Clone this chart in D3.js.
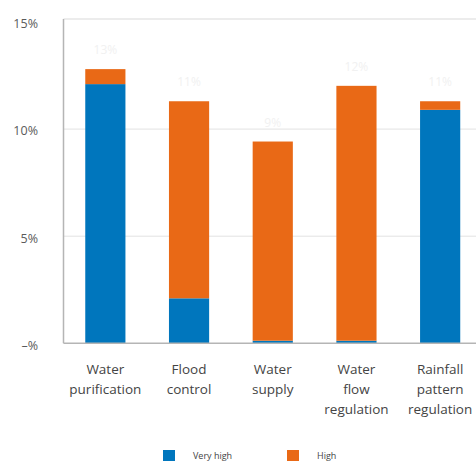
<!DOCTYPE html>
<html>
<head>
<meta charset="utf-8">
<script src="https://cdn.jsdelivr.net/npm/d3@7"></script>
<style>
  html, body { margin: 0; padding: 0; background: #fff; }
  svg { display: block; }
  text { font-family: "Open Sans", "Lato", sans-serif; }
</style>
</head>
<body>
<div id="chart"></div>
<script>
const categories = [
  ["Water", "purification"],
  ["Flood", "control"],
  ["Water", "supply"],
  ["Water", "flow", "regulation"],
  ["Rainfall", "pattern", "regulation"]
];
const categoryKeys = ["Water purification", "Flood control", "Water supply", "Water flow regulation", "Rainfall pattern regulation"];
const veryHigh = [12.1, 2.1, 0.12, 0.12, 10.9];
const high = [0.7, 9.2, 9.3, 11.9, 0.4];
const totalLabels = ["13%", "11%", "9%", "12%", "11%"];
const yTicks = [0, 5, 10, 15];
const yTickLabels = ["–%", "5%", "10%", "15%"];
const seriesNames = ["Very high", "High"];
const colors = ["#0076bd", "#e96916"];

const W = 476, H = 461;
const svg = d3.select("#chart").append("svg").attr("width", W).attr("height", H);

const x0 = 63.5, xR = 482, yBase = 343.3, yTop = 19;
const x = d3.scaleBand().domain(categoryKeys).range([x0, xR]).paddingInner(0.52).paddingOuter(0.26);
const y = d3.scaleLinear().domain([0, 15.14]).range([yBase, yTop]);

// gridlines
svg.append("g").selectAll("line").data([5, 10]).join("line")
  .attr("x1", x0).attr("x2", W).attr("y1", d => y(d)).attr("y2", d => y(d))
  .attr("stroke", "#e2e2e2").attr("stroke-width", 1);
// top frame
svg.append("line").attr("x1", x0).attr("x2", W).attr("y1", yTop).attr("y2", yTop)
  .attr("stroke", "#e6e6e6").attr("stroke-width", 1.5);

// stacked data
const rows = categoryKeys.map((k, i) => ({ key: k, "Very high": veryHigh[i], "High": high[i] }));
const stack = d3.stack().keys(seriesNames)(rows);

svg.append("g").selectAll("g").data(stack).join("g")
  .attr("fill", (d, i) => colors[i])
  .selectAll("rect").data(d => d).join("rect")
  .attr("x", d => x(d.data.key))
  .attr("width", x.bandwidth())
  .attr("y", d => y(d[1]))
  .attr("height", d => y(d[0]) - y(d[1]));

// faint total labels
svg.append("g").selectAll("text").data(rows).join("text")
  .attr("x", d => x(d.key) + x.bandwidth() / 2)
  .attr("y", d => y(d["Very high"] + d["High"]) - 15)
  .attr("text-anchor", "middle")
  .attr("font-size", 12)
  .attr("fill", "#f1f1f1")
  .text((d, i) => totalLabels[i]);

// axes lines
svg.append("line").attr("x1", x0).attr("x2", x0).attr("y1", yTop).attr("y2", yBase)
  .attr("stroke", "#b5b5b5").attr("stroke-width", 1.5);
svg.append("line").attr("x1", x0).attr("x2", W).attr("y1", yBase).attr("y2", yBase)
  .attr("stroke", "#b5b5b5").attr("stroke-width", 1.5);

// y tick labels
svg.append("g").selectAll("text").data(yTicks).join("text")
  .attr("x", 38)
  .attr("y", d => y(d) + 2)
  .attr("dy", "0.35em")
  .attr("text-anchor", "end")
  .attr("font-size", 12.5)
  .attr("fill", "#5a5a5a")
  .text((d, i) => yTickLabels[i]);

// category labels
const cat = svg.append("g").selectAll("text").data(categoryKeys).join("text")
  .attr("text-anchor", "middle")
  .attr("font-size", 13.5)
  .attr("fill", "#444");
cat.each(function(d, i) {
  const t = d3.select(this);
  categories[i].forEach((line, j) => {
    t.append("tspan")
      .attr("x", x(d) + x.bandwidth() / 2)
      .attr("y", 369 + j * 20)
      .attr("dy", "0.35em")
      .text(line);
  });
});

// legend
const legendX = [163, 287];
const lg = svg.append("g").selectAll("g").data(seriesNames).join("g")
  .attr("transform", (d, i) => `translate(${legendX[i]},450)`);
lg.append("rect").attr("width", 12).attr("height", 12).attr("fill", (d, i) => colors[i]);
lg.append("text").attr("x", 30).attr("y", 6).attr("dy", "0.35em")
  .attr("font-size", 9).attr("fill", "#444").text(d => d);
</script>
</body>
</html>
